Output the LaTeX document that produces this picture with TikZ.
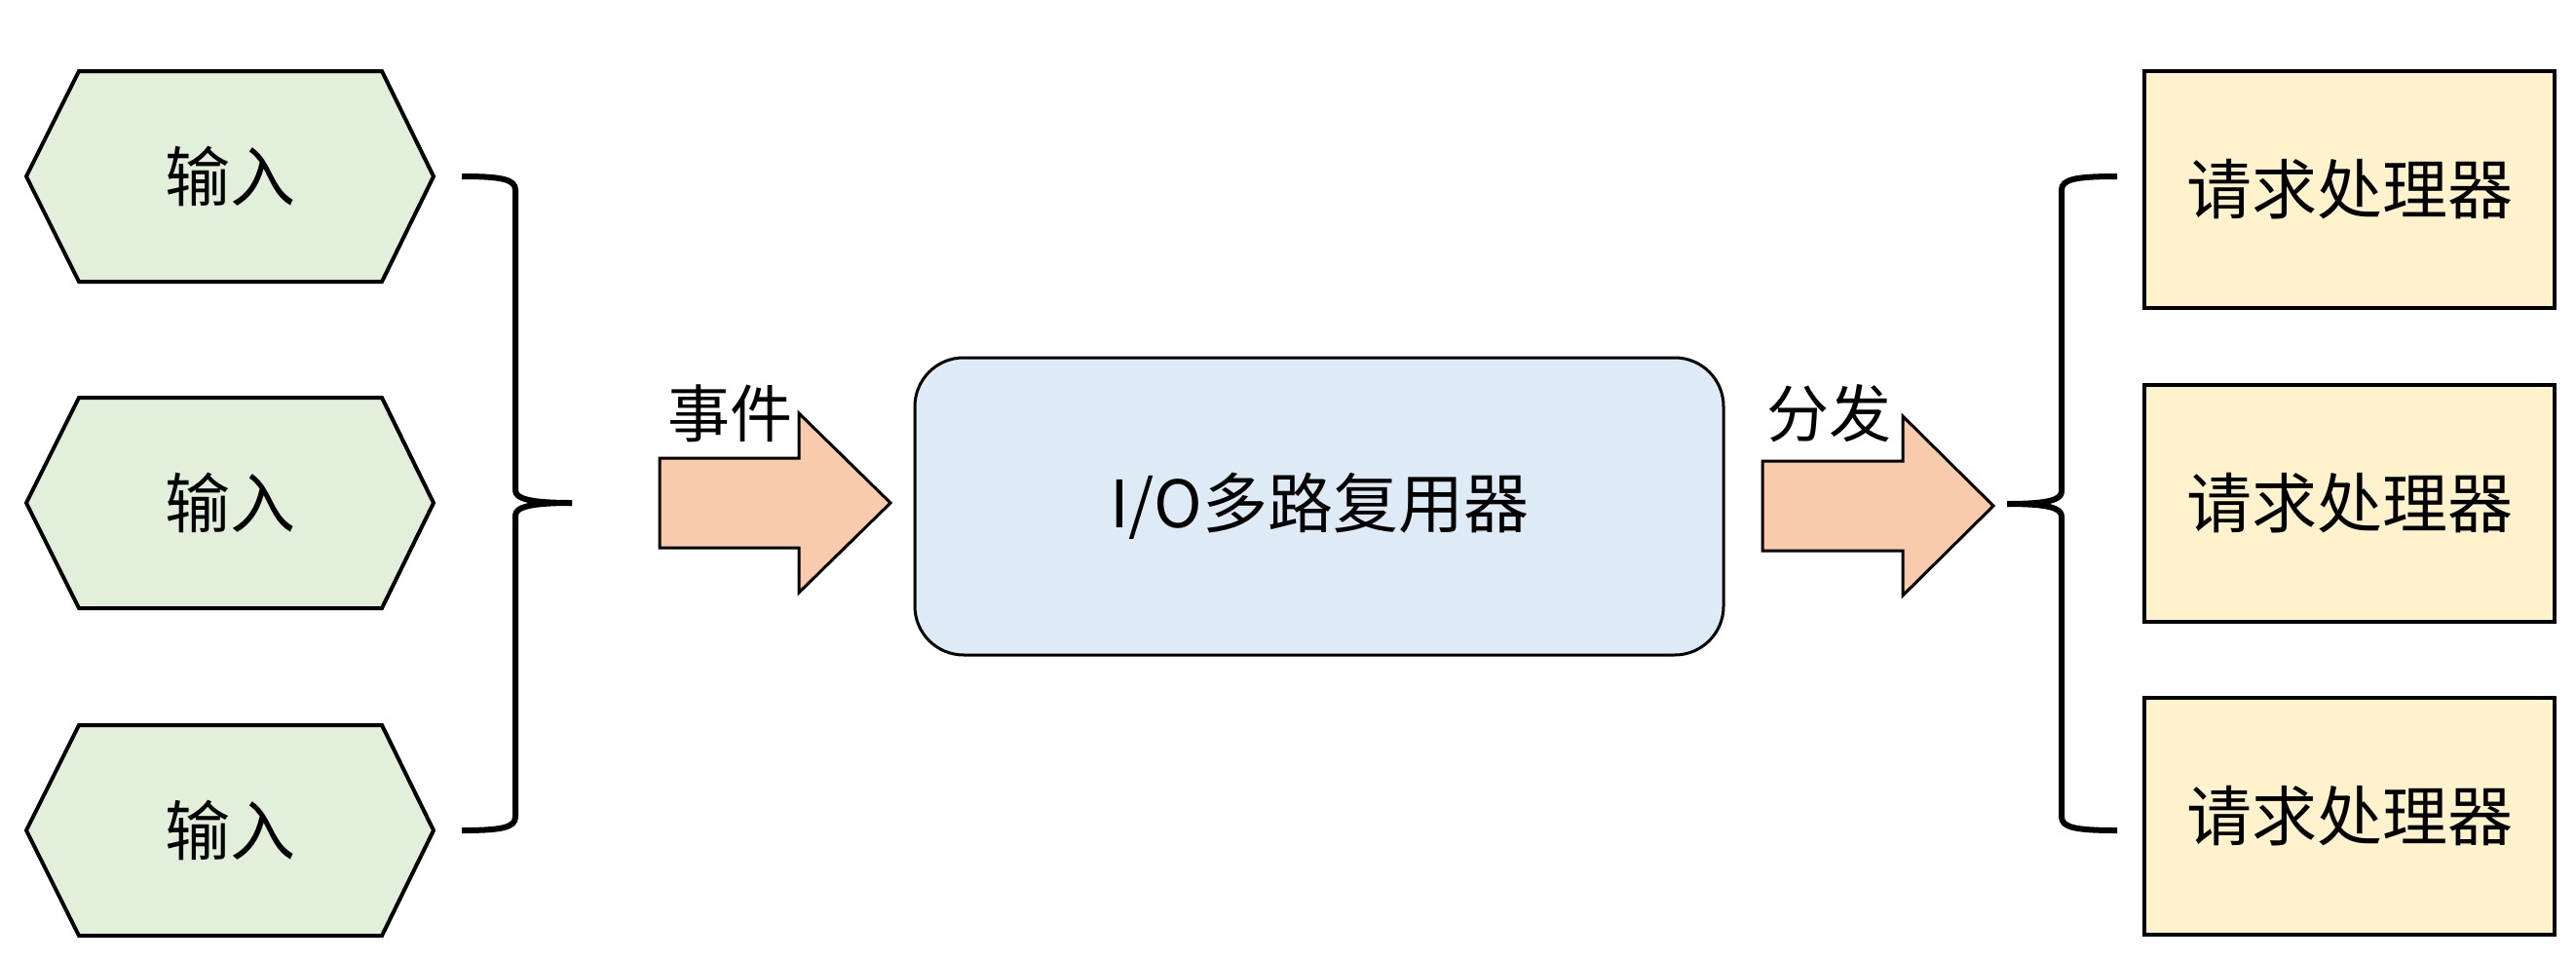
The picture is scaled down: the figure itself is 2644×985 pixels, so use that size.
\documentclass[tikz,border=0pt]{standalone}
\usepackage{fontspec}
\setmainfont{Noto Sans CJK SC}
\usepackage{xcolor}
\usetikzlibrary{calc}
\definecolor{hexfill}{HTML}{E2EFDA}
\definecolor{muxfill}{HTML}{DEEBF7}
\definecolor{procfill}{HTML}{FFF2CC}
\definecolor{arrfill}{HTML}{F8CBAD}

\begin{document}
\begin{tikzpicture}[x=0.5pt, y=-0.5pt, every node/.style={font=\fontsize{33.5}{40}\selectfont, inner sep=0pt},%
        hexline/.style={draw, line width=2pt, fill=hexfill, line join=miter},
        mux/.style={draw, line width=1.5pt, fill=muxfill, rounded corners=25pt, minimum width=415pt, minimum height=152.5pt},
        proc/.style={draw, line width=2pt, fill=procfill, minimum width=210.5pt, minimum height=121.5pt},
        blockarrow/.style={draw, line width=1.5pt, fill=arrfill},
        brace/.style={draw, line width=3pt},
        tag/.style={fill=white, inner sep=1pt, font=\fontsize{32}{38}\selectfont}]
        \useasboundingbox (0,0) rectangle (2644,985);
        % inputs
        \foreach \n/\y in {1/181,2/516,3/852} {
                \draw[hexline] (27,\y) -- (81,\y-108) -- (392,\y-108) -- (445,\y) -- (392,\y+108) -- (81,\y+108) -- cycle;
                \node (in\n) at (236,\y) {输入};
        }
        % left brace
        \coordinate (lt) at (474,181);
        \coordinate (lb) at (474,852);
        \coordinate (lm) at (587,516);
        \draw[brace] (lm) .. controls (545,516) and (529,512) .. (529,503) -- (529,195) .. controls (529,184) and (515,181) .. (lt);
        \draw[brace] (lm) .. controls (545,516) and (529,520) .. (529,529) -- (529,838) .. controls (529,849) and (515,852) .. (lb);
        % event arrow
        \coordinate (evt) at (677,516);
        \draw[blockarrow] (evt) -- ++(0,-46) -- ++(143,0) -- ++(0,-46) -- ++(94,92) -- ++(-94,92) -- ++(0,-46) -- ++(-143,0) -- cycle;
        \node[tag] (evtl) at (749,424) {事件};
        % multiplexer
        \node[mux] (mux) at (1354,519.5) {I/O多路复用器};
        % dispatch arrow
        \coordinate (dsp) at (1809,519);
        \draw[blockarrow] (dsp) -- ++(0,-46) -- ++(144,0) -- ++(0,-46) -- ++(93,92) -- ++(-93,92) -- ++(0,-46) -- ++(-144,0) -- cycle;
        \node[tag] (dspl) at (1877,424) {分发};
        % right brace
        \coordinate (rt) at (2173,181);
        \coordinate (rb) at (2173,852);
        \coordinate (rm) at (2060,517);
        \draw[brace] (rm) .. controls (2102,517) and (2116,513) .. (2116,504) -- (2116,195) .. controls (2116,184) and (2130,181) .. (rt);
        \draw[brace] (rm) .. controls (2102,517) and (2116,521) .. (2116,530) -- (2116,838) .. controls (2116,849) and (2130,852) .. (rb);
        % handlers
        \foreach \n/\y in {1/194.5,2/516,3/837.5} {
                \node[proc] (p\n) at (2411.5,\y) {请求处理器};
        }
\end{tikzpicture}
\end{document}
